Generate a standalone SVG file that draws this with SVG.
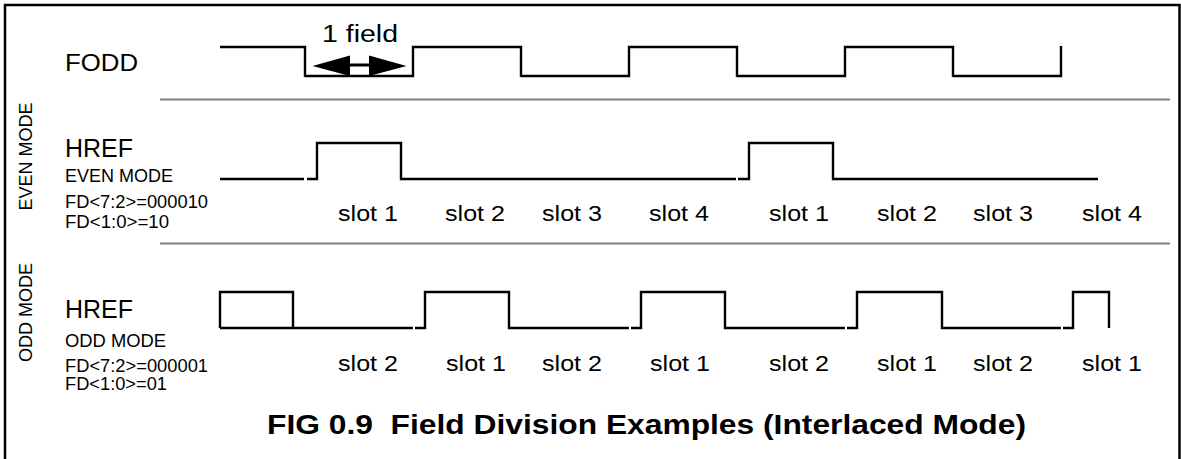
<svg xmlns="http://www.w3.org/2000/svg" width="1181" height="459" viewBox="0 0 1181 459">
<style>
.t{font-family:"Liberation Sans",Arial,sans-serif;fill:#000}
.wave{fill:none;stroke:#000;stroke-width:2.4;stroke-linejoin:miter;stroke-linecap:butt}
.sep{stroke:#808080;stroke-width:2}
.big{font-size:24px}
.mid{font-size:17.5px}
.slot{font-size:22px}
</style>
<rect x="0" y="0" width="1181" height="459" fill="#fff"/>
<rect id="frame" x="5" y="5" width="1174.5" height="470" fill="none" stroke="#000" stroke-width="2.5"/>

<g id="side-labels">
<text class="t" font-size="18" text-anchor="middle" transform="translate(32,156.5) rotate(-90)">EVEN MODE</text>
<text class="t" font-size="18" text-anchor="middle" transform="translate(32,312.5) rotate(-90)">ODD MODE</text>
</g>

<g id="separators">
<line class="sep" x1="160" y1="99.5" x2="1170" y2="99.5"/>
<line class="sep" x1="160" y1="243.5" x2="1170" y2="243.5"/>
</g>

<g id="fodd">
<text class="t big" x="65" y="71" textLength="73" lengthAdjust="spacingAndGlyphs">FODD</text>
<path class="wave" d="M220,47 H305 V77 M305,76 H413 V47 H521 V77 M521,76 H629 V47 H737 V77 M737,76 H845 V47 H953 V77 M953,76 H1061 V46"/>
<text class="t" font-size="23" x="322" y="41.7" textLength="76" lengthAdjust="spacingAndGlyphs">1 field</text>
<g id="field-arrow">
<polygon points="312.5,66 350,55.5 350,76" fill="#000"/>
<polygon points="406.5,66 369,55.5 369,76" fill="#000"/>
<line x1="349" y1="65" x2="370" y2="65" stroke="#000" stroke-width="3"/>
</g>
</g>

<g id="href-even">
<text class="t" font-size="25" x="65" y="157" textLength="68" lengthAdjust="spacingAndGlyphs">HREF</text>
<text class="t mid" x="65" y="182" textLength="108" lengthAdjust="spacingAndGlyphs">EVEN MODE</text>
<text class="t mid" x="65" y="208.3" textLength="143" lengthAdjust="spacingAndGlyphs">FD&lt;7:2&gt;=000010</text>
<text class="t mid" x="65" y="228.3" textLength="104" lengthAdjust="spacingAndGlyphs">FD&lt;1:0&gt;=10</text>
<path class="wave" d="M220,179 H304 M307,179 H317 V143 H401 V179 H736 M738,179 H749 V143 H833 V179 H1098"/>
<g id="even-slots">
<text class="t slot" x="338" y="220.7" textLength="60" lengthAdjust="spacingAndGlyphs">slot 1</text>
<text class="t slot" x="445" y="220.7" textLength="60" lengthAdjust="spacingAndGlyphs">slot 2</text>
<text class="t slot" x="542" y="220.7" textLength="60" lengthAdjust="spacingAndGlyphs">slot 3</text>
<text class="t slot" x="649" y="220.7" textLength="60" lengthAdjust="spacingAndGlyphs">slot 4</text>
<text class="t slot" x="769" y="220.7" textLength="60" lengthAdjust="spacingAndGlyphs">slot 1</text>
<text class="t slot" x="877" y="220.7" textLength="60" lengthAdjust="spacingAndGlyphs">slot 2</text>
<text class="t slot" x="973" y="220.7" textLength="60" lengthAdjust="spacingAndGlyphs">slot 3</text>
<text class="t slot" x="1082" y="220.7" textLength="60" lengthAdjust="spacingAndGlyphs">slot 4</text>
</g>
</g>

<g id="href-odd">
<text class="t" font-size="25" x="65" y="318.3" textLength="68" lengthAdjust="spacingAndGlyphs">HREF</text>
<text class="t mid" x="65" y="346.7" textLength="101" lengthAdjust="spacingAndGlyphs">ODD MODE</text>
<text class="t mid" x="65" y="371.7" textLength="143" lengthAdjust="spacingAndGlyphs">FD&lt;7:2&gt;=000001</text>
<text class="t mid" x="65" y="390" textLength="102" lengthAdjust="spacingAndGlyphs">FD&lt;1:0&gt;=01</text>
<path class="wave" d="M220,328 V292 H293 V328 M220,328 H413 M415,328 H425 V292 H509 V328 H629 M631,328 H641 V292 H725 V328 H845 M847,328 H857 V292 H942 V328 H1061 M1063,328 H1073 V292 H1109 V328"/>
<g id="odd-slots">
<text class="t slot" x="338" y="371" textLength="60" lengthAdjust="spacingAndGlyphs">slot 2</text>
<text class="t slot" x="446" y="371" textLength="60" lengthAdjust="spacingAndGlyphs">slot 1</text>
<text class="t slot" x="542" y="371" textLength="60" lengthAdjust="spacingAndGlyphs">slot 2</text>
<text class="t slot" x="650" y="371" textLength="60" lengthAdjust="spacingAndGlyphs">slot 1</text>
<text class="t slot" x="769" y="371" textLength="60" lengthAdjust="spacingAndGlyphs">slot 2</text>
<text class="t slot" x="877" y="371" textLength="60" lengthAdjust="spacingAndGlyphs">slot 1</text>
<text class="t slot" x="973" y="371" textLength="60" lengthAdjust="spacingAndGlyphs">slot 2</text>
<text class="t slot" x="1082" y="371" textLength="60" lengthAdjust="spacingAndGlyphs">slot 1</text>
</g>
</g>

<g id="title">
<text class="t" font-size="27" font-weight="bold" x="267" y="434.3" textLength="759" lengthAdjust="spacingAndGlyphs" xml:space="preserve">FIG 0.9  Field Division Examples (Interlaced Mode)</text>
</g>
</svg>
